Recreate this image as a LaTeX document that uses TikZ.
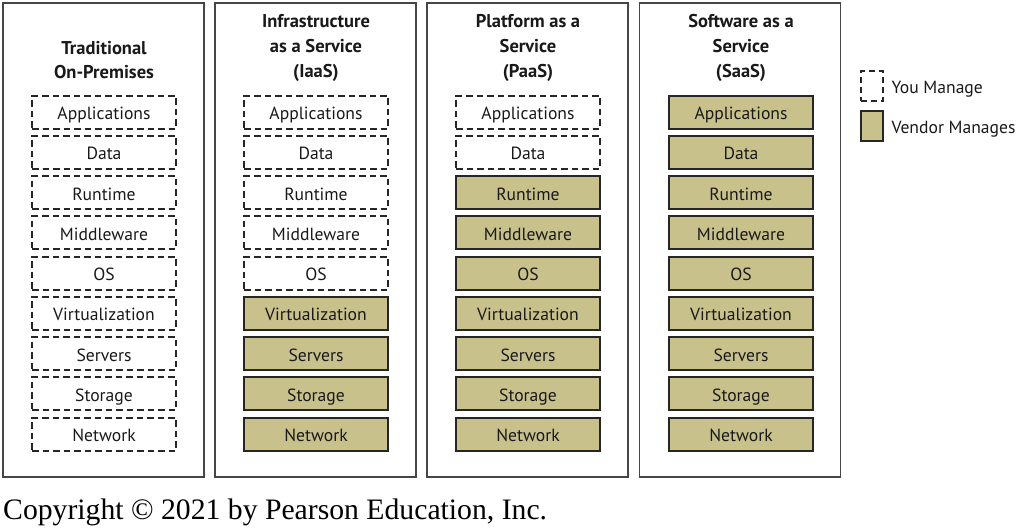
\documentclass[tikz,border=0pt]{standalone}
\usepackage{fontspec}
\setmainfont{PT Sans}
\newfontfamily\serifcopy{Liberation Serif}
\definecolor{vendor}{RGB}{201,193,139}
\definecolor{panelline}{RGB}{70,70,70}
\begin{document}
\begin{tikzpicture}[x=1pt,y=-1pt,
  panel/.style={draw=panelline,line width=1.3pt},
  layer/.style={minimum width=144pt,minimum height=33pt,inner sep=0pt,text height=15pt,text depth=0pt,font=\fontsize{17.6}{18}\selectfont,text=black!90},
  you/.style={layer,draw=black!85,line width=2pt,dash pattern=on 6.5pt off 4pt},
  ven/.style={layer,draw=black!85,line width=2pt,fill=vendor},
  ttl/.style={font=\bfseries\fontsize{18.5}{24.7}\selectfont,align=center,text=black!90},
  lg/.style={font=\fontsize{17.6}{18}\selectfont,anchor=west,text height=15pt,text depth=0pt,text=black!90}]
\useasboundingbox (0,0) rectangle (1020,530);
\node[panel,minimum width=201pt,minimum height=474pt,inner sep=0pt] (p1) at (103.5,240) {};
\node[panel,minimum width=201pt,minimum height=474pt,inner sep=0pt] (p2) at (315.5,240) {};
\node[panel,minimum width=201pt,minimum height=474pt,inner sep=0pt] (p3) at (527.5,240) {};
\node[panel,minimum width=201pt,minimum height=474pt,inner sep=0pt] (p4) at (740,240) {};
\node[ttl] (t1) at (104,60) {Traditional\\On-Premises};
\node[ttl] (t2) at (316,48) {Infrastructure\\as a Service\\(IaaS)};
\node[ttl] (t3) at (528,48) {Platform as a\\Service\\(PaaS)};
\node[ttl] (t4) at (741,48) {Software as a\\Service\\(SaaS)};
\foreach \col/\x/\nv in {a/104/9,b/316/5,c/528/2,d/741/0}{
  \foreach \lab [count=\i from 0] in {Applications,Data,Runtime,Middleware,OS,Virtualization,Servers,Storage,Network}{
    \ifnum\i<\nv
      \node[you] (\col\i) at (\x,112+40.25*\i) {\lab};
    \else
      \node[ven] (\col\i) at (\x,112+40.25*\i) {\lab};
    \fi
  }
}
\node[draw=black!85,line width=2pt,dash pattern=on 6pt off 4pt,minimum width=22pt,minimum height=30pt,inner sep=0pt] (ly) at (871.5,86) {};
\node[draw=black!85,line width=2pt,fill=vendor,minimum width=22pt,minimum height=30pt,inner sep=0pt] (lv) at (871.5,126) {};
\node[lg] (lyt) at (888,86) {You Manage};
\node[lg] (lvt) at (888,126) {Vendor Manages};
\node[font=\serifcopy\fontsize{29.7}{32}\selectfont,anchor=west,inner sep=0pt] (cp) at (3,512) {Copyright \textcopyright{} 2021 by Pearson Education, Inc.};
\end{tikzpicture}
\end{document}
